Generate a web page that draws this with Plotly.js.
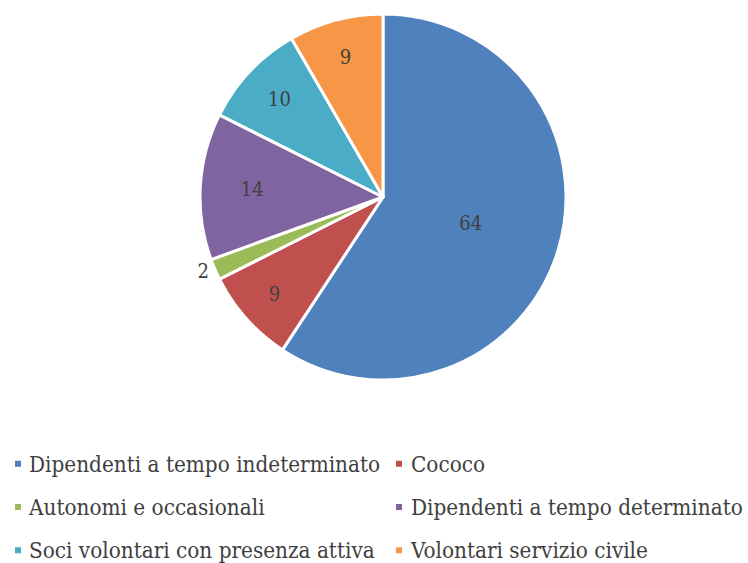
<!DOCTYPE html>
<html>
<head>
<meta charset="utf-8">
<script src="https://cdn.plot.ly/plotly-3.0.1.min.js"></script>
<style>
html,body{margin:0;padding:0;background:#fff;}
#chart{width:748px;height:563px;}
#chart .legend .scrollbox{clip-path:none !important;}
#chart .legend g.traces path.legendpie{transform:translate(18px,0px) scale(0.67);}
#chart .legend g.traces text.legendtext{transform:translate(-11px,-4px);}
#chart .legend g.traces:nth-child(even) path.legendpie{transform:translate(28px,0px) scale(0.67);}
#chart .legend g.traces:nth-child(even) text.legendtext{transform:translate(0px,-4px);}
</style>
</head>
<body>
<div id="chart"></div>
<script>
const categories = [
  "Dipendenti a tempo indeterminato",
  "Cococo",
  "Autonomi e occasionali",
  "Dipendenti a tempo determinato",
  "Soci volontari con presenza attiva",
  "Volontari servizio civile"
];
const values = [64, 9, 2, 14, 10, 9];
const colors = ["#4F81BD", "#C0504D", "#9BBB59", "#8064A2", "#4BACC6", "#F79646"];
const textPositions = ["inside", "inside", "outside", "inside", "inside", "inside"];

const FONT = "'DejaVu Serif Condensed', 'DejaVu Serif', serif";

const trace = {
  type: "pie",
  labels: categories.map(c => '<span style="font-size:22.3px">' + c + '</span>'),
  values: values,
  sort: false,
  direction: "clockwise",
  rotation: 0,
  marker: { colors: colors, line: { color: "#ffffff", width: 3 } },
  textinfo: "value",
  textposition: textPositions,
  insidetextorientation: "horizontal",
  textfont: { family: FONT, size: 20, color: "#404040" },
  outsidetextfont: { family: FONT, size: 20, color: "#404040" },
  insidetextfont: { family: FONT, size: 20, color: "#404040" },
  hoverinfo: "label+value",
  domain: { x: [200/748, 566/748], y: [1 - 380/563, 1 - 14/563] }
};

const layout = {
  width: 748,
  height: 563,
  margin: { l: 0, r: 0, t: 0, b: 0, autoexpand: false },
  paper_bgcolor: "#ffffff",
  showlegend: true,
  legend: {
    orientation: "h",
    x: 0,
    xanchor: "left",
    y: 1 - 437/563,
    yanchor: "top",
    entrywidth: 326,
    entrywidthmode: "pixels",
    bgcolor: "rgba(0,0,0,0)",
    font: { family: FONT, size: 31, color: "#404040" },
    itemwidth: 30,
    traceorder: "normal"
  }
};

Plotly.newPlot("chart", [trace], layout, { displayModeBar: false, staticPlot: true });
</script>
</body>
</html>
